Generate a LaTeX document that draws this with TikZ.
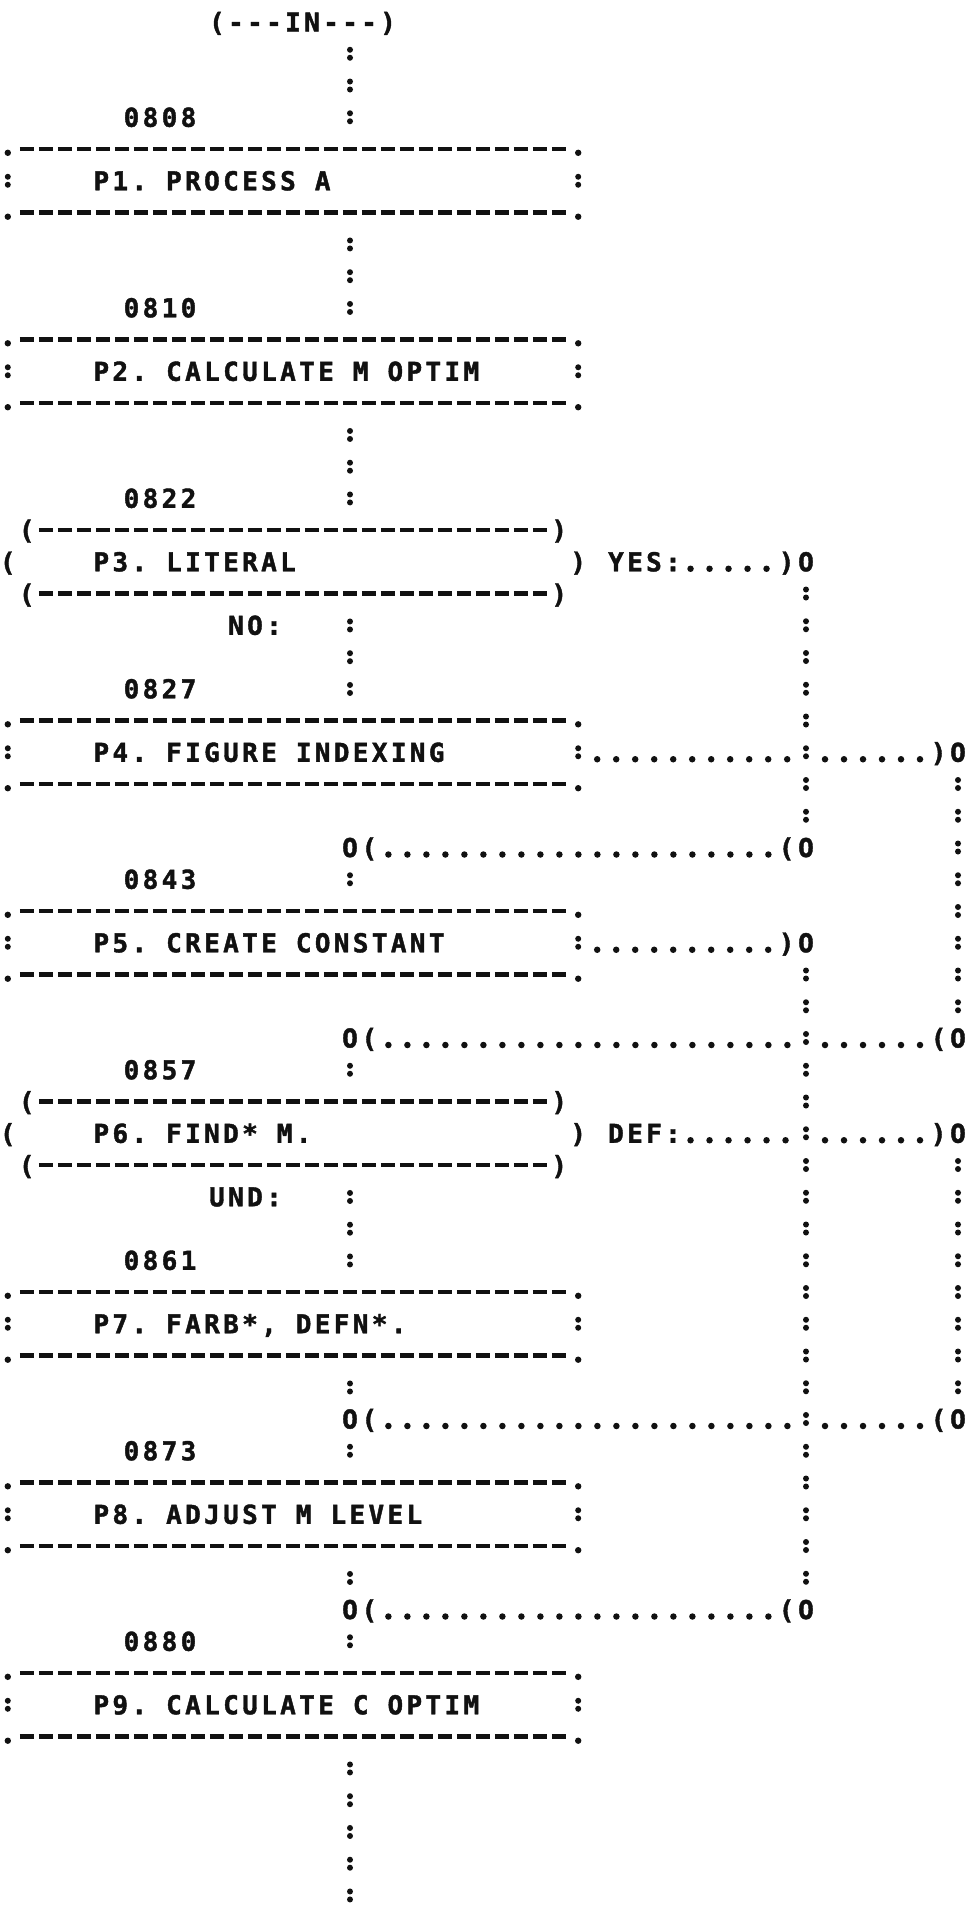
\documentclass[tikz,border=0pt]{standalone}
\usepackage{fontspec}
\usepackage{xcolor}
\usepackage{tikz}
\newfontfamily\printfont{DejaVu Sans Mono}[LetterSpace=12.9, FakeBold=1.6]
\newcommand{\lpsize}{\printfont\bfseries\fontsize{26pt}{31.75pt}\selectfont}
\definecolor{ribbon}{HTML}{111111}
\tikzset{
  listing/.style={
    x=19pt, y=-31.75pt,
    font=\lpsize,
    color=ribbon
  },
  chr/.style={inner sep=0pt, minimum width=19pt, text height=19pt, text depth=0pt},
  procbox/.style={
    rectangle,
    minimum width=570pt,
    minimum height=63.5pt,
    text width=420pt,
    inner xsep=75pt,
    inner ysep=0pt,
    align=left,
    text height=19pt,
    text depth=0pt,
    execute at begin node={\spaceskip=19pt\relax\xspaceskip=19pt\relax\hspace*{10.5pt}}
  },
  dashrule/.style={line width=4.5pt, dash pattern=on 14pt off 5pt, shorten <=-7pt, shorten >=-7pt},
  colonrun/.style={line width=6pt, line cap=round, dash pattern=on 0pt off 8pt on 0pt off 23.75pt,
    dash phase=19.875pt, shorten <=15.875pt, shorten >=15.875pt},
  dotrun/.style={line width=6.5pt, line cap=round, dash pattern=on 0pt off 19pt,
    dash phase=9.5pt, shorten <=9.5pt, shorten >=9.5pt, transform canvas={yshift=-7pt}},
  jin/.style={chr, label={[chr, anchor=east, name=#1p]west:)}},
  jout/.style={chr, label={[chr, anchor=west, name=#1p]east:(}},
  jback/.style={chr, label={[chr, anchor=east, name=#1p]west:(}},
  colonmark/.pic={\fill (0,4pt) circle (3pt) (0,-4pt) circle (3pt);}
}
\begin{document}
\begin{tikzpicture}[listing]
\useasboundingbox (-0.42105,-0.69291) rectangle (50.57895,59.52756);
\coordinate (spine) at (18,0);
\coordinate (kcol) at (42,0);
\coordinate (exit) at (18,60);

% steps
\node[chr] (entry) at (15.5,0) {(---IN---)};
\node[procbox] (p1) at (15,5) {P1. PROCESS A};
\node[procbox] (p2) at (15,11) {P2. CALCULATE M OPTIM};
\node[procbox] (p3) at (15,17) {P3. LITERAL};
\node[procbox] (p4) at (15,23) {P4. FIGURE INDEXING};
\node[procbox] (p5) at (15,29) {P5. CREATE CONSTANT};
\node[procbox] (p6) at (15,35) {P6. FIND* M.};
\node[procbox] (p7) at (15,41) {P7. FARB*, DEFN*.};
\node[procbox] (p8) at (15,47) {P8. ADJUST M LEVEL};
\node[procbox] (p9) at (15,53) {P9. CALCULATE C OPTIM};

\foreach \n/\r in {0808/3,0810/9,0822/15,0827/21,0843/27,0857/33,0861/39,0873/45,0880/51}
  \node[chr] (n\n) at (8,\r) {\n};

\node[chr] (no) at (13,19) {NO:};
\node[chr] (und) at (12.5,37) {UND:};
\node[chr] (yes) at (33.5,17) {YES:};
\node[chr] (def) at (33.5,35) {DEF:};

% junctions
\node[jout=ja] (ja) at (18,26) {O};
\node[jout=jb] (jb) at (18,32) {O};
\node[jout=jc] (jc) at (18,44) {O};
\node[jout=jd] (jd) at (18,50) {O};
\node[jin=ky] (ky) at (42,17) {O};
\node[jback=ka] (ka) at (42,26) {O};
\node[jin=kb] (kb) at (42,29) {O};
\node[jback=kd] (kd) at (42,50) {O};
\node[jin=la] (la) at (50,23) {O};
\node[jback=lb] (lb) at (50,32) {O};
\node[jin=lc] (lc) at (50,35) {O};
\node[jback=ld] (ld) at (50,44) {O};

% frames
\foreach \b in {p1,p2,p4,p5,p7,p8,p9}{
  \draw[dashrule] ([xshift=19pt]\b.north west) -- ([xshift=-19pt]\b.north east);
  \draw[dashrule] ([xshift=19pt]\b.south west) -- ([xshift=-19pt]\b.south east);
  \foreach \c in {north west,north east,south west,south east}
    \fill ([yshift=-4pt]\b.\c) circle (3.2pt);
  \pic at (\b.west) {colonmark};
  \pic at (\b.east) {colonmark};
}
\foreach \d in {p3,p6}{
  \draw[dashrule] ([xshift=38pt]\d.north west) -- ([xshift=-38pt]\d.north east);
  \draw[dashrule] ([xshift=38pt]\d.south west) -- ([xshift=-38pt]\d.south east);
  \node[chr] (\d-tl) at ([xshift=19pt]\d.north west) {(};
  \node[chr] (\d-tr) at ([xshift=-19pt]\d.north east) {)};
  \node[chr] (\d-bl) at ([xshift=19pt]\d.south west) {(};
  \node[chr] (\d-br) at ([xshift=-19pt]\d.south east) {)};
  \node[chr] (\d-ml) at (\d.west) {(};
  \node[chr] (\d-mr) at (\d.east) {)};
}

% main line
\draw[colonrun] (entry -| spine) -- (p1.north -| spine);
\foreach \a/\b in {p1/p2,p2/p3,p3/p4,p6/p7}
  \draw[colonrun] (\a.south -| spine) -- (\b.north -| spine);
\draw[colonrun] (ja.center) -- (p5.north -| spine);
\draw[colonrun] (jb.center) -- (p6.north -| spine);
\draw[colonrun] (p7.south -| spine) -- (jc.center);
\draw[colonrun] (jc.center) -- (p8.north -| spine);
\draw[colonrun] (p8.south -| spine) -- (jd.center);
\draw[colonrun] (jd.center) -- (p9.north -| spine);
\draw[colonrun] (p9.south -| spine) -- (exit);

% side lines
\draw[colonrun] (ky.center) -- (ka.center);
\draw[colonrun] (kb.center) -- (kd.center);
\draw[colonrun] (la.center) -- (lb.center);
\draw[colonrun] (lc.center) -- (ld.center);

\draw[dotrun, shorten <=0pt] (yes.east) -- (kyp.center);
\draw[dotrun] (p4.east) -- (p4.east -| kcol);
\draw[dotrun] (p4.east -| kcol) -- (lap.center);
\draw[dotrun] (jap.center) -- (kap.center);
\draw[dotrun] (p5.east) -- (kbp.center);
\draw[dotrun] (jbp.center) -- (jbp -| kcol);
\draw[dotrun] (jbp -| kcol) -- (lbp.center);
\draw[dotrun, shorten <=0pt] (def.east) -- (def.east -| kcol);
\draw[dotrun] (def.east -| kcol) -- (lcp.center);
\draw[dotrun] (jcp.center) -- (jcp -| kcol);
\draw[dotrun] (jcp -| kcol) -- (ldp.center);
\draw[dotrun] (jdp.center) -- (kdp.center);
\end{tikzpicture}
\end{document}
